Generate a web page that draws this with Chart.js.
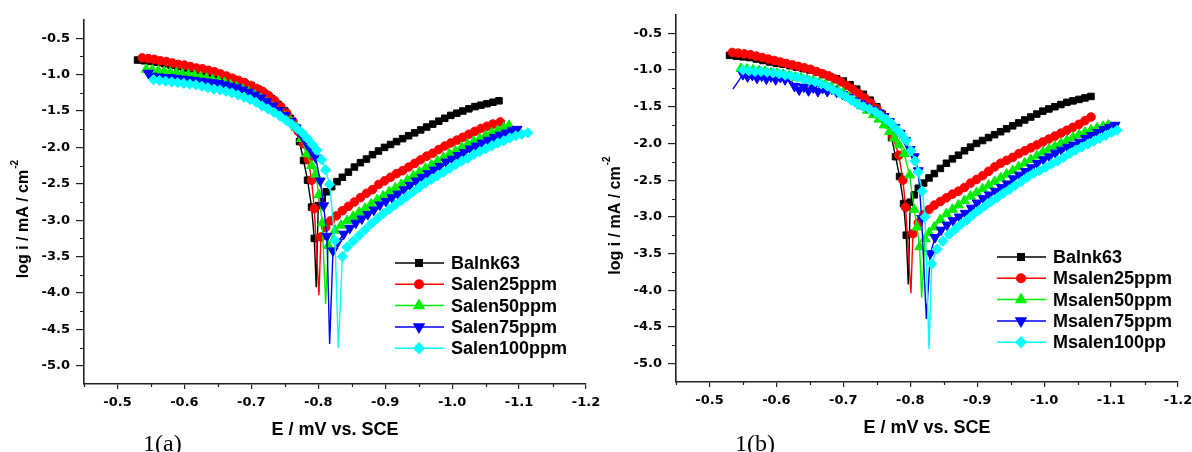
<!DOCTYPE html>
<html>
<head>
<meta charset="utf-8">
<title>Tafel plots</title>
<script src="https://cdn.jsdelivr.net/npm/chart.js@4.4.1/dist/chart.umd.min.js"></script>
<style>
  body { margin: 0; background: #fff; }
  #wrap { position: relative; width: 1192px; height: 452px; overflow: hidden; }
  #wrap canvas { position: absolute; top: 0; height: 452px; }
</style>
</head>
<body>
<div id="wrap">
  <canvas id="chartA" width="620" height="452" style="left:0;width:620px"></canvas>
  <canvas id="chartB" width="596" height="452" style="left:596px;width:596px"></canvas>
</div>
<script>
// axis ticks (E in V, log i)
var xTicks = [-0.5, -0.6, -0.7, -0.8, -0.9, -1.0, -1.1, -1.2];
var xMinor = [-0.45, -0.55, -0.65, -0.75, -0.85, -0.95, -1.05, -1.15];
var yTicks = [-0.5, -1.0, -1.5, -2.0, -2.5, -3.0, -3.5, -4.0, -4.5, -5.0];
var yMinor = [-0.75, -1.25, -1.75, -2.25, -2.75, -3.25, -3.75, -4.25, -4.75];

var namesA = ["Balnk63", "Salen25ppm", "Salen50ppm", "Salen75ppm", "Salen100ppm"];
var namesB = ["Balnk63", "Msalen25ppm", "Msalen50ppm", "Msalen75ppm", "Msalen100pp"];

// [E, log i] pairs
var blank = [[-0.530,-0.80],[-0.540,-0.81],[-0.550,-0.82],[-0.560,-0.83],[-0.570,-0.85],[-0.580,-0.87],[-0.590,-0.89],[-0.600,-0.91],[-0.610,-0.92],[-0.620,-0.94],[-0.630,-0.96],[-0.640,-0.98],[-0.650,-1.00],[-0.660,-1.03],[-0.670,-1.06],[-0.680,-1.09],[-0.690,-1.12],[-0.700,-1.15],[-0.710,-1.20],[-0.720,-1.26],[-0.730,-1.33],[-0.740,-1.41],[-0.750,-1.50],[-0.758,-1.60],[-0.765,-1.72],[-0.772,-1.92],[-0.778,-2.18],[-0.784,-2.45],[-0.790,-2.82],[-0.794,-3.25],[-0.797,-3.92],[-0.800,-2.80],[-0.806,-2.70],[-0.812,-2.61],[-0.820,-2.54],[-0.828,-2.47],[-0.836,-2.41],[-0.845,-2.34],[-0.854,-2.27],[-0.863,-2.21],[-0.872,-2.16],[-0.881,-2.10],[-0.890,-2.05],[-0.899,-2.00],[-0.908,-1.96],[-0.917,-1.92],[-0.926,-1.88],[-0.935,-1.84],[-0.944,-1.80],[-0.953,-1.76],[-0.962,-1.72],[-0.971,-1.68],[-0.980,-1.64],[-0.989,-1.60],[-0.998,-1.56],[-1.007,-1.53],[-1.016,-1.50],[-1.025,-1.47],[-1.034,-1.44],[-1.043,-1.42],[-1.052,-1.40],[-1.061,-1.38],[-1.070,-1.36]];

var salen25 = [[-0.537,-0.77],[-0.546,-0.78],[-0.555,-0.79],[-0.564,-0.81],[-0.573,-0.82],[-0.582,-0.84],[-0.591,-0.86],[-0.600,-0.87],[-0.609,-0.89],[-0.618,-0.91],[-0.627,-0.92],[-0.636,-0.94],[-0.645,-0.96],[-0.654,-0.99],[-0.663,-1.02],[-0.672,-1.05],[-0.681,-1.08],[-0.690,-1.11],[-0.699,-1.15],[-0.708,-1.19],[-0.717,-1.23],[-0.726,-1.29],[-0.735,-1.36],[-0.744,-1.44],[-0.753,-1.53],[-0.762,-1.64],[-0.770,-1.78],[-0.778,-1.95],[-0.785,-2.17],[-0.790,-2.45],[-0.794,-2.84],[-0.801,-4.03],[-0.804,-3.23],[-0.811,-3.10],[-0.818,-3.01],[-0.827,-2.94],[-0.836,-2.87],[-0.845,-2.81],[-0.854,-2.75],[-0.863,-2.69],[-0.872,-2.63],[-0.881,-2.58],[-0.890,-2.51],[-0.899,-2.46],[-0.908,-2.41],[-0.917,-2.36],[-0.926,-2.32],[-0.935,-2.27],[-0.944,-2.22],[-0.953,-2.17],[-0.962,-2.12],[-0.971,-2.08],[-0.980,-2.03],[-0.989,-1.98],[-0.998,-1.94],[-1.007,-1.90],[-1.016,-1.86],[-1.025,-1.82],[-1.034,-1.78],[-1.043,-1.74],[-1.052,-1.71],[-1.061,-1.68],[-1.072,-1.65]];

var salen50 = [[-0.543,-0.93],[-0.552,-0.94],[-0.561,-0.95],[-0.570,-0.96],[-0.579,-0.97],[-0.588,-0.98],[-0.597,-0.99],[-0.606,-1.00],[-0.615,-1.01],[-0.624,-1.03],[-0.633,-1.05],[-0.642,-1.07],[-0.651,-1.09],[-0.660,-1.11],[-0.669,-1.14],[-0.678,-1.17],[-0.687,-1.20],[-0.696,-1.24],[-0.705,-1.28],[-0.714,-1.33],[-0.723,-1.39],[-0.732,-1.45],[-0.741,-1.52],[-0.750,-1.58],[-0.759,-1.64],[-0.767,-1.73],[-0.775,-1.88],[-0.783,-2.09],[-0.790,-2.25],[-0.796,-2.37],[-0.801,-2.65],[-0.806,-3.04],[-0.811,-4.15],[-0.815,-3.35],[-0.825,-3.14],[-0.834,-3.07],[-0.843,-3.01],[-0.852,-2.95],[-0.861,-2.89],[-0.870,-2.84],[-0.879,-2.78],[-0.888,-2.72],[-0.897,-2.67],[-0.906,-2.61],[-0.915,-2.56],[-0.924,-2.51],[-0.933,-2.45],[-0.942,-2.39],[-0.951,-2.34],[-0.960,-2.29],[-0.969,-2.24],[-0.978,-2.19],[-0.987,-2.14],[-0.996,-2.09],[-1.005,-2.05],[-1.014,-2.00],[-1.023,-1.96],[-1.032,-1.92],[-1.041,-1.88],[-1.050,-1.84],[-1.059,-1.80],[-1.068,-1.77],[-1.077,-1.73],[-1.085,-1.70]];

var salen75 = [[-0.546,-0.98],[-0.552,-1.02],[-0.561,-1.03],[-0.570,-1.04],[-0.579,-1.04],[-0.588,-1.05],[-0.597,-1.06],[-0.606,-1.07],[-0.615,-1.08],[-0.624,-1.09],[-0.633,-1.10],[-0.642,-1.11],[-0.651,-1.12],[-0.660,-1.14],[-0.669,-1.16],[-0.678,-1.18],[-0.687,-1.21],[-0.696,-1.24],[-0.705,-1.28],[-0.714,-1.32],[-0.723,-1.37],[-0.732,-1.43],[-0.741,-1.49],[-0.750,-1.56],[-0.759,-1.64],[-0.767,-1.73],[-0.775,-1.83],[-0.783,-1.95],[-0.790,-2.05],[-0.796,-2.14],[-0.803,-2.46],[-0.808,-2.80],[-0.813,-3.22],[-0.817,-4.70],[-0.822,-3.42],[-0.829,-3.30],[-0.838,-3.19],[-0.847,-3.11],[-0.856,-3.04],[-0.865,-2.98],[-0.874,-2.92],[-0.883,-2.86],[-0.892,-2.79],[-0.901,-2.74],[-0.910,-2.69],[-0.919,-2.64],[-0.928,-2.58],[-0.937,-2.52],[-0.946,-2.46],[-0.955,-2.41],[-0.964,-2.36],[-0.973,-2.31],[-0.982,-2.26],[-0.991,-2.20],[-1.000,-2.16],[-1.009,-2.11],[-1.018,-2.07],[-1.027,-2.02],[-1.036,-1.98],[-1.045,-1.94],[-1.054,-1.90],[-1.063,-1.86],[-1.072,-1.83],[-1.081,-1.80],[-1.090,-1.77],[-1.097,-1.75]];

var salen100 = [[-0.554,-1.07],[-0.563,-1.08],[-0.572,-1.09],[-0.581,-1.10],[-0.590,-1.11],[-0.599,-1.12],[-0.608,-1.13],[-0.617,-1.14],[-0.626,-1.16],[-0.635,-1.18],[-0.644,-1.20],[-0.653,-1.21],[-0.662,-1.23],[-0.671,-1.25],[-0.680,-1.28],[-0.689,-1.31],[-0.698,-1.34],[-0.707,-1.38],[-0.716,-1.43],[-0.725,-1.47],[-0.734,-1.52],[-0.743,-1.57],[-0.752,-1.63],[-0.760,-1.68],[-0.768,-1.74],[-0.776,-1.80],[-0.784,-1.88],[-0.791,-1.96],[-0.798,-2.04],[-0.805,-2.17],[-0.811,-2.31],[-0.817,-2.51],[-0.825,-3.28],[-0.830,-4.76],[-0.836,-3.50],[-0.843,-3.37],[-0.852,-3.29],[-0.861,-3.21],[-0.870,-3.13],[-0.879,-3.05],[-0.888,-2.98],[-0.897,-2.91],[-0.906,-2.85],[-0.915,-2.79],[-0.924,-2.73],[-0.933,-2.67],[-0.942,-2.61],[-0.951,-2.55],[-0.960,-2.49],[-0.969,-2.44],[-0.978,-2.39],[-0.987,-2.34],[-0.996,-2.29],[-1.005,-2.24],[-1.014,-2.19],[-1.023,-2.15],[-1.032,-2.10],[-1.041,-2.06],[-1.050,-2.02],[-1.059,-1.98],[-1.068,-1.94],[-1.077,-1.91],[-1.086,-1.87],[-1.095,-1.84],[-1.104,-1.82],[-1.113,-1.80]];

var msalen25 = [[-0.534,-0.76],[-0.543,-0.77],[-0.552,-0.78],[-0.561,-0.79],[-0.570,-0.81],[-0.579,-0.83],[-0.588,-0.85],[-0.597,-0.87],[-0.606,-0.89],[-0.615,-0.91],[-0.624,-0.93],[-0.633,-0.95],[-0.642,-0.97],[-0.651,-0.99],[-0.660,-1.02],[-0.669,-1.05],[-0.678,-1.08],[-0.687,-1.12],[-0.696,-1.16],[-0.705,-1.21],[-0.714,-1.26],[-0.723,-1.32],[-0.732,-1.38],[-0.741,-1.45],[-0.750,-1.53],[-0.758,-1.62],[-0.766,-1.74],[-0.774,-1.91],[-0.783,-2.16],[-0.789,-2.50],[-0.793,-2.87],[-0.801,-4.04],[-0.804,-3.23],[-0.812,-3.08],[-0.820,-2.97],[-0.828,-2.90],[-0.836,-2.84],[-0.845,-2.79],[-0.854,-2.74],[-0.863,-2.69],[-0.872,-2.65],[-0.881,-2.60],[-0.890,-2.54],[-0.899,-2.49],[-0.908,-2.44],[-0.917,-2.38],[-0.926,-2.32],[-0.935,-2.27],[-0.944,-2.23],[-0.953,-2.19],[-0.962,-2.14],[-0.971,-2.10],[-0.980,-2.06],[-0.989,-2.02],[-0.998,-1.98],[-1.007,-1.94],[-1.016,-1.90],[-1.025,-1.86],[-1.034,-1.82],[-1.043,-1.78],[-1.052,-1.74],[-1.061,-1.69],[-1.070,-1.64]];

var msalen50 = [[-0.547,-0.98],[-0.556,-0.99],[-0.565,-1.00],[-0.574,-1.01],[-0.583,-1.02],[-0.592,-1.04],[-0.601,-1.05],[-0.610,-1.06],[-0.619,-1.08],[-0.628,-1.10],[-0.637,-1.11],[-0.646,-1.13],[-0.655,-1.15],[-0.664,-1.17],[-0.673,-1.20],[-0.682,-1.23],[-0.691,-1.27],[-0.700,-1.31],[-0.709,-1.37],[-0.718,-1.43],[-0.727,-1.49],[-0.736,-1.55],[-0.745,-1.61],[-0.753,-1.67],[-0.761,-1.75],[-0.769,-1.84],[-0.776,-1.93],[-0.783,-2.02],[-0.791,-2.14],[-0.799,-2.43],[-0.806,-2.90],[-0.810,-3.14],[-0.814,-3.41],[-0.817,-4.10],[-0.822,-3.30],[-0.828,-3.22],[-0.836,-3.14],[-0.845,-3.04],[-0.854,-2.96],[-0.863,-2.90],[-0.872,-2.84],[-0.881,-2.78],[-0.890,-2.72],[-0.899,-2.67],[-0.908,-2.62],[-0.917,-2.57],[-0.926,-2.52],[-0.935,-2.47],[-0.944,-2.42],[-0.953,-2.37],[-0.962,-2.32],[-0.971,-2.27],[-0.980,-2.22],[-0.989,-2.17],[-0.998,-2.12],[-1.007,-2.08],[-1.016,-2.04],[-1.025,-2.00],[-1.034,-1.96],[-1.043,-1.92],[-1.052,-1.88],[-1.061,-1.85],[-1.070,-1.82],[-1.079,-1.79],[-1.088,-1.77],[-1.096,-1.75]];

var msalen75 = [[-0.535,-1.26],[-0.550,-1.06],[-0.557,-1.09],[-0.564,-1.07],[-0.571,-1.11],[-0.578,-1.08],[-0.585,-1.12],[-0.592,-1.09],[-0.599,-1.13],[-0.606,-1.10],[-0.613,-1.13],[-0.620,-1.11],[-0.627,-1.22],[-0.634,-1.27],[-0.641,-1.23],[-0.648,-1.28],[-0.655,-1.24],[-0.662,-1.29],[-0.669,-1.25],[-0.676,-1.29],[-0.683,-1.26],[-0.690,-1.30],[-0.699,-1.33],[-0.708,-1.37],[-0.717,-1.42],[-0.726,-1.46],[-0.735,-1.50],[-0.744,-1.54],[-0.753,-1.58],[-0.761,-1.63],[-0.769,-1.70],[-0.777,-1.78],[-0.785,-1.86],[-0.793,-1.96],[-0.800,-2.08],[-0.806,-2.18],[-0.812,-2.37],[-0.817,-3.02],[-0.824,-4.39],[-0.830,-3.50],[-0.837,-3.28],[-0.846,-3.18],[-0.855,-3.11],[-0.864,-3.05],[-0.873,-3.00],[-0.882,-2.95],[-0.891,-2.88],[-0.900,-2.81],[-0.909,-2.75],[-0.918,-2.70],[-0.927,-2.65],[-0.936,-2.60],[-0.945,-2.55],[-0.954,-2.48],[-0.963,-2.43],[-0.972,-2.38],[-0.981,-2.33],[-0.990,-2.27],[-0.999,-2.22],[-1.008,-2.18],[-1.017,-2.13],[-1.026,-2.09],[-1.035,-2.05],[-1.044,-2.02],[-1.053,-1.98],[-1.062,-1.93],[-1.071,-1.89],[-1.080,-1.85],[-1.089,-1.81],[-1.098,-1.78],[-1.106,-1.75]];

var msalen100 = [[-0.550,-1.00],[-0.559,-1.01],[-0.568,-1.02],[-0.577,-1.02],[-0.586,-1.03],[-0.595,-1.04],[-0.604,-1.05],[-0.613,-1.07],[-0.622,-1.08],[-0.631,-1.10],[-0.640,-1.12],[-0.649,-1.14],[-0.658,-1.16],[-0.667,-1.19],[-0.676,-1.22],[-0.685,-1.27],[-0.694,-1.31],[-0.703,-1.36],[-0.712,-1.41],[-0.721,-1.46],[-0.730,-1.50],[-0.739,-1.53],[-0.748,-1.57],[-0.756,-1.62],[-0.764,-1.67],[-0.772,-1.73],[-0.780,-1.81],[-0.787,-1.88],[-0.794,-1.96],[-0.801,-2.10],[-0.807,-2.24],[-0.812,-2.39],[-0.818,-2.65],[-0.822,-3.00],[-0.828,-4.80],[-0.832,-3.64],[-0.840,-3.44],[-0.849,-3.33],[-0.858,-3.24],[-0.867,-3.17],[-0.876,-3.10],[-0.885,-3.04],[-0.894,-2.97],[-0.903,-2.91],[-0.912,-2.85],[-0.921,-2.79],[-0.930,-2.74],[-0.939,-2.68],[-0.948,-2.63],[-0.957,-2.57],[-0.966,-2.52],[-0.975,-2.46],[-0.984,-2.41],[-0.993,-2.37],[-1.002,-2.33],[-1.011,-2.28],[-1.020,-2.24],[-1.029,-2.19],[-1.038,-2.14],[-1.047,-2.09],[-1.056,-2.05],[-1.065,-2.01],[-1.074,-1.97],[-1.083,-1.93],[-1.092,-1.89],[-1.101,-1.85],[-1.109,-1.82]];

// series styling: Origin-like symbol set
var colors = ["#000000", "#ff0000", "#00ee00", "#0000ff", "#00ffff"];
var symbols = ["rect", "circle", "triangle", "triangle", "rectRot"];
var symbolTurn = [0, 0, 0, 180, 0];
var symbolSize = [4.6, 4.3, 5.7, 5.7, 5.1];

var tickFont = { family: "'DejaVu Sans', sans-serif", size: 13, weight: "bold" };
var boldSans = "'Liberation Sans', Arial, sans-serif";

// markers are left off the sharp minima (corrosion potential spikes, branch start)
function markerRadius(i) {
  return function (ctx) {
    var d = ctx.dataset.data, k = ctx.dataIndex, v = d[k].y;
    var nb = [d[k - 1], d[k + 1]].filter(Boolean);
    var spike = nb.every(function (n) { return n.y - v > 0.15; });
    return spike ? 0 : symbolSize[i];
  };
}

var panelDecor = {
  id: "panelDecor",
  afterDraw: function (chart, args, o) {
    var ctx = chart.ctx, a = chart.chartArea;
    var xs = chart.scales.x, ys = chart.scales.y;
    ctx.save();

    // minor ticks
    ctx.strokeStyle = "#222";
    ctx.lineWidth = 1.2;
    ctx.beginPath();
    xMinor.forEach(function (v) {
      var px = Math.round(xs.getPixelForValue(v)) + 0.5;
      ctx.moveTo(px, a.bottom); ctx.lineTo(px, a.bottom + 3);
    });
    yMinor.forEach(function (v) {
      var py = Math.round(ys.getPixelForValue(v)) + 0.5;
      ctx.moveTo(a.left, py); ctx.lineTo(a.left - 4, py);
    });
    ctx.stroke();

    // legend: line + symbol + name
    ctx.font = "bold 18px " + boldSans;
    ctx.textBaseline = "middle";
    ctx.textAlign = "left";
    chart.data.datasets.forEach(function (ds, i) {
      var y = o.legendY + i * 21.3;
      ctx.strokeStyle = ds.borderColor;
      ctx.lineWidth = 1.5;
      ctx.beginPath();
      ctx.moveTo(o.legendX, y); ctx.lineTo(o.legendX + 49, y);
      ctx.stroke();
      ctx.fillStyle = ds.backgroundColor;
      Chart.helpers.drawPoint(ctx, {
        pointStyle: ds.pointStyle, rotation: ds.pointRotation,
        radius: symbolSize[i], borderWidth: 1
      }, o.legendX + 24, y);
      ctx.fillStyle = "#000";
      ctx.fillText(ds.label, o.legendX + 56, y + 1);
    });

    // x title
    ctx.fillStyle = "#000";
    ctx.textAlign = "center";
    ctx.textBaseline = "alphabetic";
    ctx.font = "bold 18px " + boldSans;
    ctx.fillText("E / mV vs. SCE", (a.left + a.right) / 2, a.bottom + 51);

    // y title with superscript
    var main = "log i / mA / cm";
    ctx.translate(a.left - 60, (a.top + a.bottom) / 2 + 22);
    ctx.rotate(-Math.PI / 2);
    ctx.font = "bold 16px " + boldSans;
    var w = ctx.measureText(main).width;
    ctx.textAlign = "left";
    ctx.textBaseline = "middle";
    ctx.fillText(main, -w / 2, 0);
    ctx.font = "bold 10px " + boldSans;
    ctx.fillText("-2", w / 2 + 1, -9);
    ctx.setTransform(1, 0, 0, 1, 0, 0);

    // panel caption
    ctx.font = "24px 'Liberation Serif', 'Times New Roman', serif";
    ctx.textAlign = "left";
    ctx.textBaseline = "alphabetic";
    ctx.fillText(o.caption, a.left + 59, 451);
    ctx.restore();
  }
};

function buildPanel(id, series, names, box) {
  var ctx = document.getElementById(id).getContext("2d");
  return new Chart(ctx, {
    type: "line",
    data: {
      datasets: series.map(function (pts, i) {
        return {
          label: names[i],
          data: pts.map(function (p) { return { x: p[0], y: p[1] }; }),
          borderColor: colors[i],
          backgroundColor: colors[i],
          borderWidth: 1.4,
          pointStyle: symbols[i],
          pointRotation: symbolTurn[i],
          pointRadius: markerRadius(i),
          pointBorderWidth: 1,
          tension: 0,
          order: series.length - i
        };
      })
    },
    options: {
      responsive: false,
      animation: false,
      events: [],
      layout: { padding: { left: 0, right: box.right, top: box.top, bottom: 0 } },
      plugins: {
        legend: { display: false },
        tooltip: { enabled: false },
        panelDecor: { legendX: box.legendX, legendY: box.legendY, caption: box.caption }
      },
      scales: {
        x: {
          type: "linear",
          reverse: true,
          min: -1.2,
          max: -0.45,
          afterBuildTicks: function (s) { s.ticks = xTicks.map(function (v) { return { value: v }; }); },
          afterFit: function (s) { s.height = box.xHeight; s.paddingLeft = 0; s.paddingRight = 0; },
          grid: { drawOnChartArea: false, tickLength: 5, color: "#222", lineWidth: 1.2 },
          border: { color: "#222", width: 1.6 },
          ticks: { font: tickFont, color: "#000", padding: 6, maxRotation: 0, autoSkip: false,
                   callback: function (v) { return v.toFixed(1); } }
        },
        y: {
          type: "linear",
          min: -5.25,
          max: -0.25,
          afterBuildTicks: function (s) { s.ticks = yTicks.map(function (v) { return { value: v }; }); },
          afterFit: function (s) { s.width = box.yWidth; s.paddingTop = 0; s.paddingBottom = 0; },
          grid: { drawOnChartArea: false, tickLength: 8, color: "#222", lineWidth: 1.2 },
          border: { color: "#222", width: 1.6 },
          ticks: { font: tickFont, color: "#000", padding: 6, autoSkip: false,
                   callback: function (v) { return v.toFixed(1); } }
        }
      }
    },
    plugins: [panelDecor]
  });
}

buildPanel("chartA", [blank, salen25, salen50, salen75, salen100], namesA,
  { yWidth: 84, right: 34, top: 20, xHeight: 68, legendX: 395, legendY: 263, caption: "1(a)" });
buildPanel("chartB", [blank, msalen25, msalen50, msalen75, msalen100], namesB,
  { yWidth: 80, right: 14, top: 15, xHeight: 70, legendX: 401, legendY: 257, caption: "1(b)" });
</script>
</body>
</html>
